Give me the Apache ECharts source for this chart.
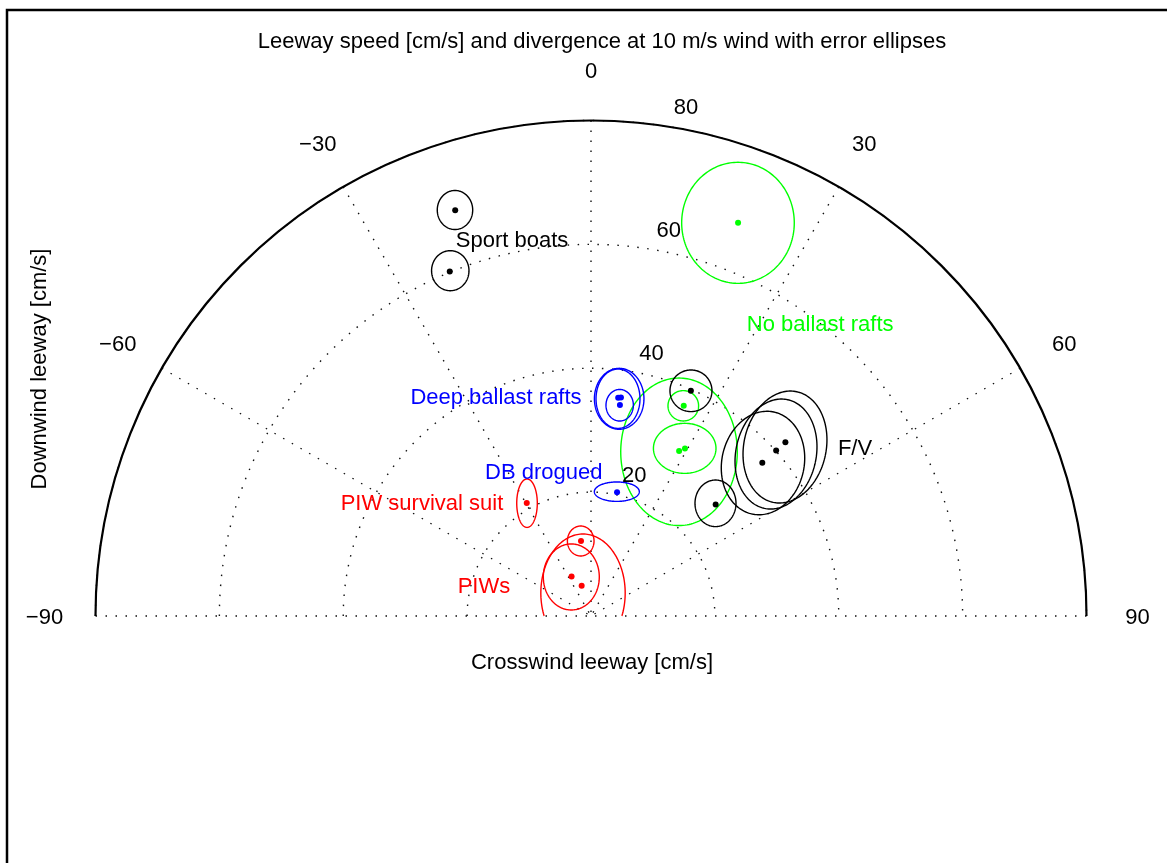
<!DOCTYPE html>
<html>
<head>
<meta charset="utf-8">
<title>Leeway speed and divergence</title>
<script src="https://cdn.jsdelivr.net/npm/echarts@6.0.0/dist/echarts.min.js"></script>
<style>
  html, body { margin: 0; padding: 0; background: #fff; }
  #main { width: 1167px; height: 863px; }
</style>
</head>
<body>
<div id="main"></div>
<script>
// tick labels
var angleTicks = [-90, -60, -30, 0, 30, 60, 90];
var speedTicks = [20, 40, 60, 80];

// leeway points: [speed cm/s, divergence deg]
var sportBoats = [[69.1, -18.5], [60.1, -22.3]];
var noBallastRafts = [[67.8, 20.5], [37.1, 23.8], [30.2, 28.1], [31.0, 29.3]];
var deepBallastRafts = [[35.5, 7.1], [35.6, 7.8], [34.4, 7.8]];
var dbDrogued = [[20.4, 11.9]];
var piwSurvivalSuit = [[21.0, -29.6]];
var piws = [[12.2, -7.6], [7.1, -26.2], [5.1, -17.2]];
var fishingVessels = [[42.1, 48.2], [40.1, 48.2], [37.1, 48.2], [27.0, 48.2], [39.8, 23.9]];

// error ellipses: [crosswind centre, downwind centre, crosswind semi-axis, downwind semi-axis, tilt deg]
var sportEll = [[-21.96, 65.55, 2.86, 3.15, 0], [-22.72, 55.75, 3.02, 3.23, 0]];
var noBallastEll = [[23.73, 63.48, 9.09, 9.77, 0], [14.90, 33.94, 2.47, 2.45, 0],
                    [14.21, 26.51, 9.41, 11.91, 0], [15.13, 27.07, 5.05, 4.04, 0]];
var deepBallastEll = [[4.55, 35.07, 4.0, 4.92, 0], [4.36, 35.08, 3.55, 4.79, 0], [4.63, 34.03, 2.21, 2.55, 0]];
var dbDroguedEll = [[4.17, 20.07, 3.63, 1.57, 0]];
var survivalSuitEll = [[-10.33, 18.21, 1.66, 3.91, 0]];
var piwEll = [[-1.66, 12.11, 2.15, 2.42, 0], [-3.18, 6.30, 4.52, 5.33, 0], [-1.29, 3.71, 6.81, 9.53, 0]];
var fvEll = [[31.32, 27.28, 6.65, 9.13, 12], [29.87, 26.15, 6.49, 8.97, 12], [27.77, 24.70, 6.65, 8.42, 12],
             [20.10, 18.19, 3.31, 3.76, 0], [16.14, 36.36, 3.39, 3.36, 0]];

// group names, placed at [crosswind, downwind]
var groupNames = ['Sport boats', 'No ballast rafts', 'Deep ballast rafts', 'DB drogued', 'PIW survival suit', 'PIWs', 'F/V'];
var groupNamePos = [[-12.75, 60.54], [37.0, 46.98], [-15.34, 35.2], [-7.62, 23.09], [-27.29, 18.08], [-17.28, 4.68], [42.63, 26.96]];

var FONT = '"Liberation Sans", Arial, Helvetica, sans-serif';
var FS = 22;
var BLACK = '#000000', GREEN = '#00ff00', BLUE = '#0000ff', RED = '#ff0000';
var nameColors = [BLACK, GREEN, BLUE, BLUE, RED, RED, BLACK];
var dotted = { type: [1.5, 8.5], color: '#111', width: 1.4 };

function toPolar(x, y) {
    return [Math.sqrt(x * x + y * y), Math.atan2(x, y) * 180 / Math.PI];
}

function minus(v) {
    return v < 0 ? '\u2212' + Math.abs(v) : String(v);
}

// ellipse outline, cut off below the crosswind axis
function ellipseSeries(data, color) {
    return {
        type: 'custom',
        coordinateSystem: 'polar',
        silent: true,
        z: 3,
        data: data,
        renderItem: function (params, api) {
            var cx = api.value(0), cy = api.value(1), sx = api.value(2), sy = api.value(3);
            var t = api.value(4) * Math.PI / 180;
            var pts = [];
            for (var k = 0; k <= 180; k++) {
                var a = 2 * Math.PI * k / 180;
                var u = sx * Math.cos(a), v = sy * Math.sin(a);
                pts.push([cx + u * Math.cos(t) + v * Math.sin(t), cy - u * Math.sin(t) + v * Math.cos(t)]);
            }
            var runs = [], cur = [];
            for (var i = 0; i < pts.length; i++) {
                var p = pts[i];
                if (p[1] >= 0) {
                    if (!cur.length && i > 0) {
                        var q = pts[i - 1], f = q[1] / (q[1] - p[1]);
                        cur.push(api.coord(toPolar(q[0] + f * (p[0] - q[0]), 0)));
                    }
                    cur.push(api.coord(toPolar(p[0], p[1])));
                } else if (cur.length) {
                    var q2 = pts[i - 1], f2 = q2[1] / (q2[1] - p[1]);
                    cur.push(api.coord(toPolar(q2[0] + f2 * (p[0] - q2[0]), 0)));
                    runs.push(cur);
                    cur = [];
                }
            }
            if (cur.length) runs.push(cur);
            return {
                type: 'group',
                children: runs.map(function (r) {
                    return { type: 'polyline', shape: { points: r }, style: { fill: null, stroke: color, lineWidth: 1.4 } };
                })
            };
        }
    };
}

function pointSeries(data, color) {
    return {
        type: 'scatter',
        coordinateSystem: 'polar',
        silent: true,
        z: 4,
        symbolSize: 6,
        itemStyle: { color: color, opacity: 1 },
        data: data
    };
}

var chart = echarts.init(document.getElementById('main'), null, { renderer: 'canvas' });

var option = {
    animation: false,
    title: {
        text: 'Leeway speed [cm/s] and divergence at 10 m/s wind with error ellipses',
        left: 597,
        top: 26,
        textAlign: 'center',
        textStyle: { fontFamily: FONT, fontSize: FS, fontWeight: 'normal', color: '#000' }
    },
    polar: { center: [591, 616], radius: 495.5 },
    angleAxis: {
        type: 'value', min: -90, max: 90, interval: 30,
        startAngle: 180, endAngle: 0, clockwise: true,
        axisLine: { lineStyle: { color: '#000', width: 2.2 } },
        axisTick: { show: false },
        axisLabel: { show: false },
        splitLine: { show: true, lineStyle: dotted }
    },
    radiusAxis: {
        type: 'value', min: 0, max: 80, interval: 20,
        axisLine: { show: false },
        axisTick: { show: false },
        axisLabel: { show: false },
        splitLine: { show: true, lineStyle: dotted }
    },
    graphic: [
        {
            type: 'rect', z: -1, silent: true,
            shape: { x: 7, y: 10, width: 1300, height: 1000 },
            style: { fill: null, stroke: '#000', lineWidth: 2.5 }
        },
        {
            type: 'text', x: 592, y: 663, silent: true,
            style: { text: 'Crosswind leeway [cm/s]', font: FS + 'px ' + FONT, fill: '#000', align: 'center', verticalAlign: 'middle' }
        },
        {
            type: 'text', x: 40, y: 369, rotation: Math.PI / 2, silent: true,
            style: { text: 'Downwind leeway [cm/s]', font: FS + 'px ' + FONT, fill: '#000', align: 'center', verticalAlign: 'middle' }
        }
    ],
    series: [
        // divergence labels round the rim
        {
            type: 'custom', coordinateSystem: 'polar', silent: true, z: 5,
            data: angleTicks.map(function (a) { return [a]; }),
            renderItem: function (params, api) {
                var a = api.value(0);
                var o = api.coord([0, a]), p = api.coord([80, a]);
                var dx = p[0] - o[0], dy = p[1] - o[1], len = Math.sqrt(dx * dx + dy * dy);
                return {
                    type: 'text',
                    x: p[0] + dx / len * 51, y: p[1] + dy / len * 51 + 2,
                    style: { text: minus(a), font: FS + 'px ' + FONT, fill: '#000', align: 'center', verticalAlign: 'middle' }
                };
            }
        },
        // speed labels on the rings
        {
            type: 'custom', coordinateSystem: 'polar', silent: true, z: 5,
            data: speedTicks.map(function (s) { return [s]; }),
            renderItem: function (params, api) {
                var s = api.value(0);
                var p = api.coord([s + 1, 8]);
                return {
                    type: 'text', x: p[0] + 13, y: p[1],
                    style: { text: String(s), font: FS + 'px ' + FONT, fill: '#000', align: 'left', verticalAlign: 'bottom' }
                };
            }
        },
        // group names
        {
            type: 'custom', coordinateSystem: 'polar', silent: true, z: 5,
            data: groupNamePos,
            renderItem: function (params, api) {
                var p = api.coord(toPolar(api.value(0), api.value(1)));
                return {
                    type: 'text', x: p[0], y: p[1],
                    style: {
                        text: groupNames[params.dataIndex], font: FS + 'px ' + FONT,
                        fill: nameColors[params.dataIndex], align: 'center', verticalAlign: 'middle'
                    }
                };
            }
        },
        ellipseSeries(sportEll, BLACK),
        ellipseSeries(noBallastEll, GREEN),
        ellipseSeries(deepBallastEll, BLUE),
        ellipseSeries(dbDroguedEll, BLUE),
        ellipseSeries(survivalSuitEll, RED),
        ellipseSeries(piwEll, RED),
        ellipseSeries(fvEll, BLACK),
        pointSeries(sportBoats, BLACK),
        pointSeries(noBallastRafts, GREEN),
        pointSeries(deepBallastRafts, BLUE),
        pointSeries(dbDrogued, BLUE),
        pointSeries(piwSurvivalSuit, RED),
        pointSeries(piws, RED),
        pointSeries(fishingVessels, BLACK)
    ]
};

chart.setOption(option);
</script>
</body>
</html>
